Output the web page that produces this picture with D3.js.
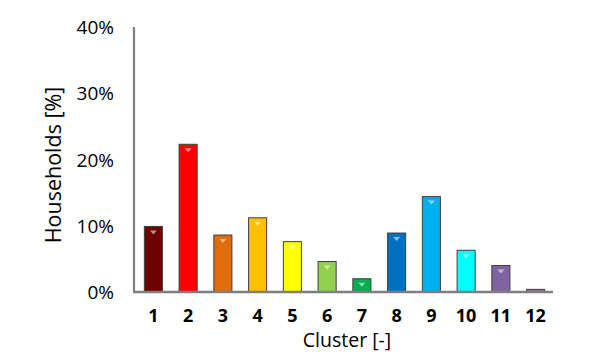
<!DOCTYPE html>
<html><head><meta charset="utf-8">
<script src="https://cdn.jsdelivr.net/npm/d3@7"></script>
<style>body{margin:0;background:#fff}svg{display:block}</style>
</head><body>
<svg id="c" width="597" height="354"></svg>
<script>
const clusters = ["1","2","3","4","5","6","7","8","9","10","11","12"];
const shares = [9.9, 22.3, 8.6, 11.2, 7.6, 4.6, 2.0, 8.9, 14.4, 6.3, 4.0, 0.4];
const colors = ["#6e0000","#ff0000","#e36c0a","#ffc000","#ffff00","#92d050","#00b050","#0070c0","#00b0f0","#00ffff","#8064a2","#9c6a8c"];
const yTicks = [0, 10, 20, 30, 40];

const svg = d3.select("#c");
const x = d3.scaleBand().domain(clusters).range([136, 553]).paddingInner(0.48).paddingOuter(0.24);
const y = d3.scaleLinear().domain([0, 40]).range([292, 27]);
const font = "Open Sans, Liberation Sans, sans-serif";

// bars
const g = svg.append("g");
g.selectAll("rect.bar").data(shares).join("rect")
  .attr("class","bar")
  .attr("x",(d,i)=>x(clusters[i]))
  .attr("y",d=>y(d))
  .attr("width",x.bandwidth())
  .attr("height",d=>y(0)-y(d))
  .attr("fill",(d,i)=>colors[i])
  .attr("stroke","#3f3f3f").attr("stroke-width",1);
// small highlight triangles
g.selectAll("path.tri").data(shares).join("path")
  .attr("class","tri")
  .attr("d",(d,i)=>{
    const cx = x(clusters[i]) + x.bandwidth()/2, ty = y(d)+4;
    if (y(0)-y(d) < 8) return "";
    return `M${cx-3.5},${ty}L${cx+3.5},${ty}L${cx},${ty+4}Z`;
  })
  .attr("fill","#fff").attr("opacity",0.55);

// axes
svg.append("line").attr("x1",134).attr("x2",134).attr("y1",27).attr("y2",293)
  .attr("stroke","#7f7f7f").attr("stroke-width",2.2);
svg.append("line").attr("x1",133).attr("x2",553).attr("y1",292).attr("y2",292)
  .attr("stroke","#7f7f7f").attr("stroke-width",2.5);

// y tick labels
svg.append("g").selectAll("text").data(yTicks).join("text")
  .attr("x",114).attr("y",d=>y(d)+7)
  .attr("text-anchor","end")
  .attr("font-family",font).attr("font-size",19).attr("fill","#000")
  .text(d=>d+"%");

// x tick labels
svg.append("g").selectAll("text").data(clusters).join("text")
  .attr("x",d=>x(d)+x.bandwidth()/2).attr("y",322)
  .attr("text-anchor","middle")
  .attr("font-family",font).attr("font-weight","bold").attr("font-size",18).attr("fill","#000")
  .text(d=>d);

// axis titles
svg.append("text").attr("x",347).attr("y",347).attr("text-anchor","middle")
  .attr("font-family",font).attr("font-size",19.5).attr("fill","#000").text("Cluster [-]");
svg.append("text").attr("transform","translate(61,165) rotate(-90)").attr("text-anchor","middle")
  .attr("font-family",font).attr("font-size",21.5).attr("fill","#000").text("Households [%]");
</script>
</body></html>
